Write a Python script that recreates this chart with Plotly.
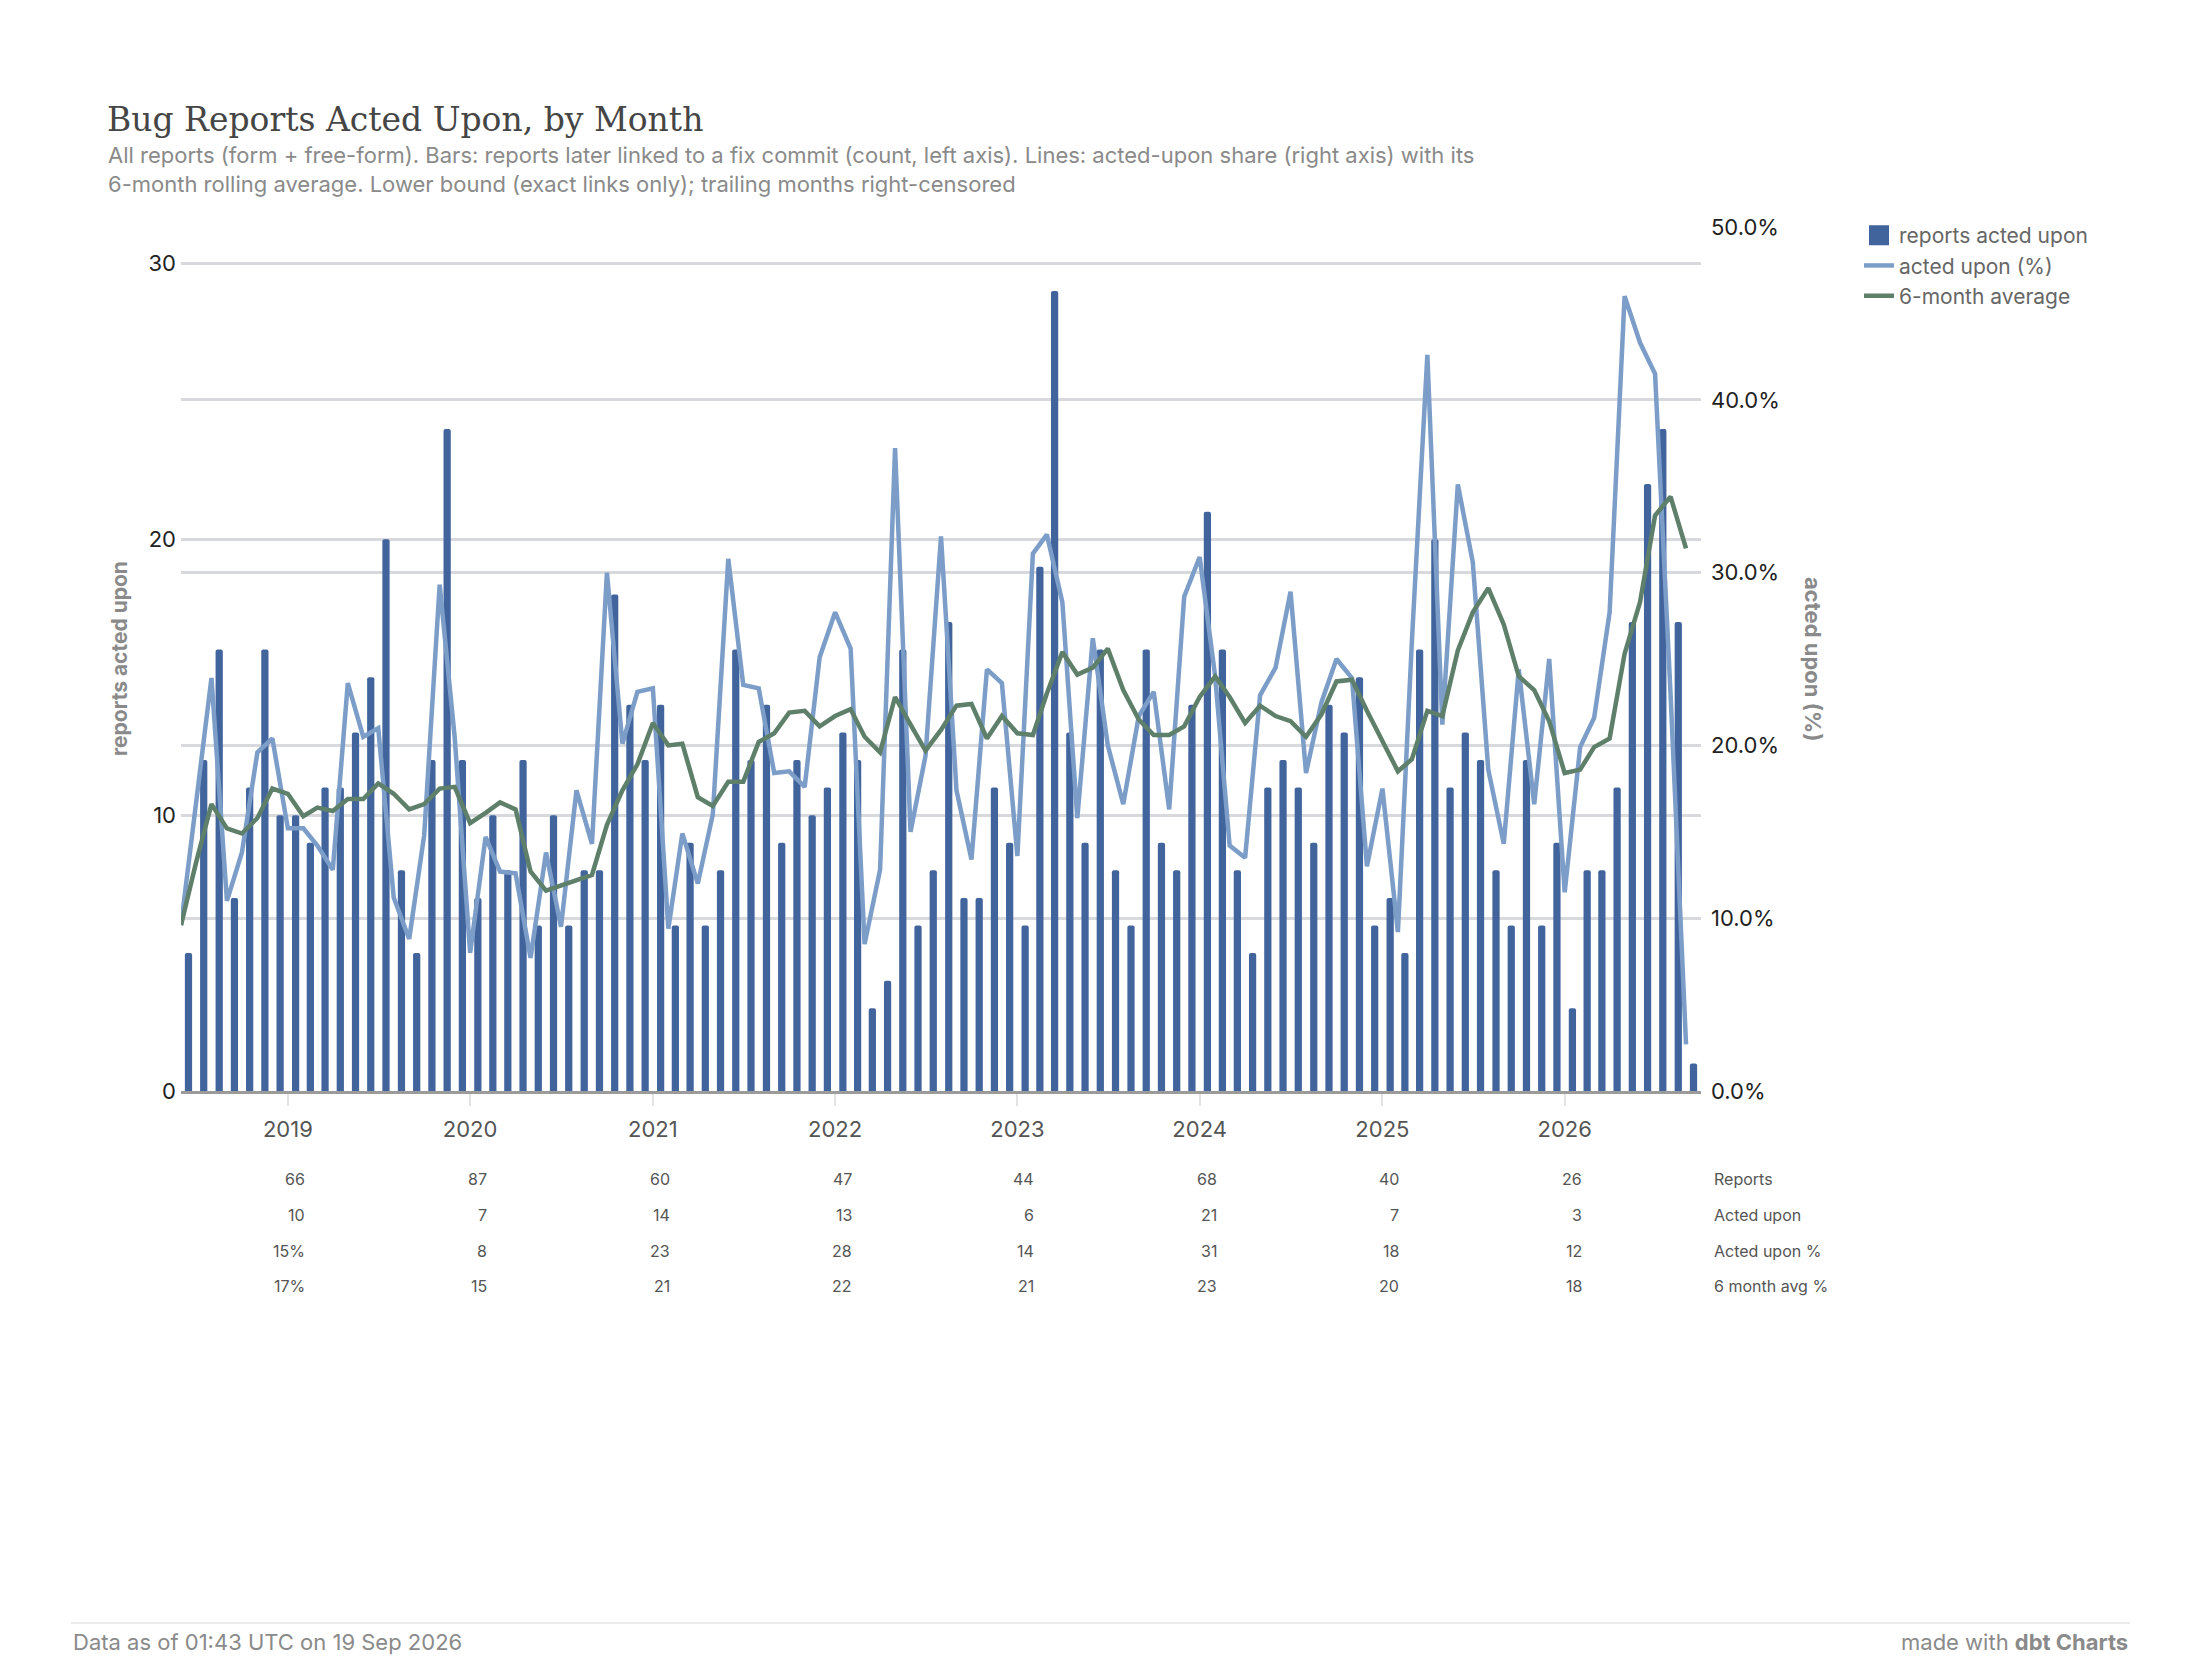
import plotly.graph_objects as go
import pandas as pd

# ---------------- data ----------------
months = pd.date_range("2018-06-01", periods=100, freq="MS")

acted_upon = [5, 12, 16, 7, 11, 16, 10, 10, 9, 11, 11, 13, 15, 20, 8, 5, 12, 24, 12, 7,
              10, 8, 12, 6, 10, 6, 8, 8, 18, 14, 12, 14, 6, 9, 6, 8, 16, 12, 14, 9,
              12, 10, 11, 13, 12, 3, 4, 16, 6, 8, 17, 7, 7, 11, 9, 6, 19, 29, 13, 9,
              16, 8, 6, 16, 9, 8, 14, 21, 16, 8, 5, 11, 12, 11, 9, 14, 13, 15, 6, 7,
              5, 16, 20, 11, 13, 12, 8, 6, 12, 6, 9, 3, 8, 8, 11, 17, 22, 24, 17, 1]

acted_pct = [9.6, 16.5, 23.9, 11.0, 13.8, 19.6, 20.4, 15.2, 15.2, 14.2,
             12.8, 23.6, 20.5, 21.0, 11.2, 8.8, 14.8, 29.3, 20.5, 8.0,
             14.7, 12.7, 12.6, 7.7, 13.8, 9.5, 17.4, 14.3, 30.0, 20.1,
             23.1, 23.3, 9.4, 14.9, 12.0, 16.0, 30.8, 23.5, 23.3, 18.4,
             18.5, 17.6, 25.1, 27.7, 25.6, 8.5, 12.8, 37.2, 15.0, 19.4,
             32.1, 17.4, 13.4, 24.4, 23.6, 13.6, 31.1, 32.2, 28.3, 15.8,
             26.2, 20.0, 16.6, 21.7, 23.1, 16.3, 28.6, 30.9, 24.0, 14.2,
             13.5, 22.9, 24.5, 28.9, 18.4, 22.5, 25.0, 23.9, 13.0, 17.5,
             9.2, 26.0, 42.6, 21.2, 35.1, 30.6, 18.6, 14.3, 24.4, 16.6,
             25.0, 11.5, 19.9, 21.6, 27.7, 46.0, 43.3, 41.5, 23.0, 2.7]

avg6_pct = [9.6, 13.2, 16.6, 15.2, 14.9, 15.8, 17.5, 17.2, 15.9, 16.4,
            16.2, 16.9, 16.9, 17.8, 17.2, 16.3, 16.6, 17.5, 17.6, 15.5,
            16.1, 16.7, 16.3, 12.7, 11.6, 11.9, 12.2, 12.5, 15.4, 17.4,
            18.9, 21.3, 20.0, 20.1, 17.0, 16.5, 17.9, 17.9, 20.2, 20.7,
            21.9, 22.0, 21.1, 21.7, 22.1, 20.5, 19.6, 22.8, 21.2, 19.7,
            20.9, 22.3, 22.4, 20.4, 21.7, 20.7, 20.6, 23.0, 25.4, 24.1,
            24.5, 25.6, 23.2, 21.5, 20.6, 20.6, 21.1, 22.8, 24.0, 22.8,
            21.3, 22.3, 21.7, 21.4, 20.5, 21.8, 23.7, 23.8, 22.0, 20.2,
            18.5, 19.2, 22.0, 21.7, 25.5, 27.7, 29.1, 27.0, 24.0, 23.2,
            21.4, 18.4, 18.6, 19.9, 20.4, 25.3, 28.3, 33.3, 34.4, 31.4]

year_labels = ["2019", "2020", "2021", "2022", "2023", "2024", "2025", "2026"]
left_ticks = [0, 10, 20, 30]
right_ticks = [0, 10, 20, 30, 40, 50]
right_tick_text = ["0.0%", "10.0%", "20.0%", "30.0%", "40.0%", "50.0%"]
tbl_reports = ["66", "87", "60", "47", "44", "68", "40", "26"]
tbl_acted = ["10", "7", "14", "13", "6", "21", "7", "3"]
tbl_pct = ["15%", "8", "23", "28", "14", "31", "18", "12"]
tbl_avg = ["17%", "15", "21", "22", "21", "23", "20", "18"]
tbl_rows = ["Reports", "Acted upon", "Acted upon %", "6 month avg %"]

# ---------------- style ----------------
BAR = "#41649c"
LBLUE = "#7b9dc8"
GREEN = "#5e7f6a"
GRID = "#d8d9dd"
SANS = "Inter, 'Noto Sans', sans-serif"
SERIF = "'DejaVu Serif', serif"

year_dates = [f"{y}-01-01" for y in year_labels]

fig = go.Figure()
fig.add_trace(go.Bar(
    x=months, y=acted_upon, name="reports acted upon",
    xperiod="M1", xperiodalignment="middle",
    width=14.5 * 86400000,
    marker=dict(color=BAR, line=dict(width=0)),
    yaxis="y", showlegend=False, legendgroup="a",
))
# legend entry for the bars (larger square symbol)
fig.add_trace(go.Scatter(
    x=[None], y=[None], mode="markers", name="reports acted upon",
    marker=dict(symbol="square", size=16, color=BAR, line=dict(color=BAR, width=4)),
    yaxis="y", legendgroup="a", hoverinfo="skip",
))
fig.add_trace(go.Scatter(
    x=months, y=acted_pct, name="acted upon (%)", mode="lines",
    line=dict(color=LBLUE, width=4.5), yaxis="y2", legendgroup="b",
))
fig.add_trace(go.Scatter(
    x=months, y=avg6_pct, name="6-month average", mode="lines",
    line=dict(color=GREEN, width=4.5), yaxis="y2", legendgroup="c",
))

# page geometry (figure pixels)
W, H = 2184, 1662
PL, PR, PT, PB = 173, 1693, 219, 1083


def px_x(px):
    return (px - PL) / (PR - PL)


def px_y(py):
    return (PB - py) / (PB - PT)


annotations = []
# subtitle
annotations.append(dict(
    xref="paper", yref="paper", x=px_x(98), y=px_y(132), xanchor="left", yanchor="top",
    text="All reports (form + free-form). Bars: reports later linked to a fix commit (count, left axis). "
         "Lines: acted-upon share (right axis) with its<br>6-month rolling average. Lower bound "
         "(exact links only); trailing months right-censored",
    showarrow=False, align="left", font=dict(family=SANS, size=22, color="#8a8a8a"),
))
# axis titles
annotations.append(dict(
    xref="paper", yref="paper", x=px_x(111), y=0.5, xanchor="center", yanchor="middle",
    textangle=-90, text="reports acted upon", showarrow=False,
    font=dict(family=SANS, size=21, color="#8a8a8a", weight="bold"),
))
annotations.append(dict(
    xref="paper", yref="paper", x=px_x(1805), y=0.5, xanchor="center", yanchor="middle",
    textangle=90, text="acted upon (%)", showarrow=False,
    font=dict(family=SANS, size=22, color="#8a8a8a", weight="bold"),
))
# table rows
row_y = [1171, 1207, 1243, 1278]
for vals, ry in zip([tbl_reports, tbl_acted, tbl_pct, tbl_avg], row_y):
    for d, v in zip(year_dates, vals):
        annotations.append(dict(
            xref="x", yref="paper", x=d, y=px_y(ry), xanchor="right", yanchor="middle",
            xshift=19, text=v, showarrow=False,
            font=dict(family=SANS, size=16, color="#555555"),
        ))
for lbl, ry in zip(tbl_rows, row_y):
    annotations.append(dict(
        xref="paper", yref="paper", x=px_x(1704), y=px_y(ry), xanchor="left",
        yanchor="middle", text=lbl, showarrow=False,
        font=dict(family=SANS, size=16, color="#555555"),
    ))
# footer
annotations.append(dict(
    xref="paper", yref="paper", x=px_x(63), y=px_y(1634), xanchor="left", yanchor="middle",
    text="Data as of 01:43 UTC on 19 Sep 2026", showarrow=False,
    font=dict(family=SANS, size=22, color="#8a8a8a"),
))
annotations.append(dict(
    xref="paper", yref="paper", x=px_x(2122), y=px_y(1634), xanchor="right", yanchor="middle",
    text="made with <b>dbt Charts</b>", showarrow=False,
    font=dict(family=SANS, size=22, color="#8a8a8a"),
))

shapes = [dict(type="line", xref="paper", yref="paper", x0=px_x(63), x1=px_x(2122),
               y0=px_y(1615), y1=px_y(1615), line=dict(color="#e6e6e6", width=1.5))]

fig.update_layout(
    width=W, height=H,
    margin=dict(l=PL, r=W - PR, t=PT, b=H - PB),
    paper_bgcolor="white", plot_bgcolor="white",
    barcornerradius=2,
    title=dict(text="Bug Reports Acted Upon, by Month", x=99 / W, xanchor="left",
               y=1 - 111 / H, yanchor="middle", xref="container", yref="container",
               font=dict(family=SERIF, size=33, color="#454545")),
    showlegend=True,
    legend=dict(xref="container", yref="container", x=1851 / W, y=1 - 207 / H,
                xanchor="left", yanchor="top", traceorder="grouped", tracegroupgap=0,
                font=dict(family=SANS, size=21, color="#666666"), bgcolor="rgba(0,0,0,0)"),
    xaxis=dict(type="date", range=["2018-06-01", "2026-10-01"],
               tickvals=year_dates, ticktext=year_labels,
               showgrid=False, zeroline=False,
               showline=True, linecolor="#9b9b9b", linewidth=3,
               ticks="outside", ticklen=12, tickwidth=1.5, tickcolor="#e3e3e3",
               ticklabelstandoff=5,
               tickfont=dict(family=SANS, size=22, color="#555555")),
    yaxis=dict(range=[0, 31.32], tickvals=left_ticks, showgrid=True,
               gridcolor=GRID, gridwidth=3, zeroline=False, showline=False,
               ticklabelstandoff=4,
               tickfont=dict(family=SANS, size=22, color="#222222")),
    yaxis2=dict(range=[0, 50], tickvals=right_ticks, ticktext=right_tick_text,
                overlaying="y", side="right", showgrid=True,
                gridcolor=GRID, gridwidth=3, zeroline=False, showline=False,
                ticklabelstandoff=9,
                tickfont=dict(family=SANS, size=22, color="#222222")),
    annotations=annotations,
    shapes=shapes,
)

fig.write_html("out.html")
